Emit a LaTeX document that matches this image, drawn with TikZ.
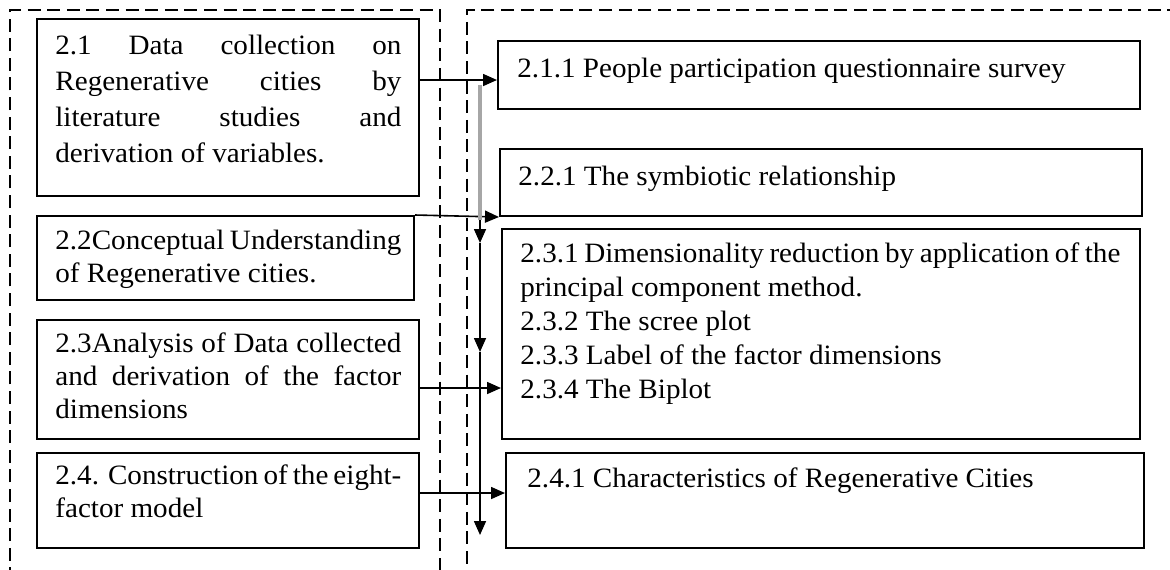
\documentclass[tikz,border=0pt]{standalone}
\usepackage{fontspec}
\setmainfont[FakeStretch=1.04]{Liberation Serif}
\usetikzlibrary{arrows.meta}

\tikzset{
  stage/.style={draw, line width=1pt, anchor=north west, inner sep=0pt},
  stagetext/.style={anchor=base west, inner sep=0pt, align=justify, font=\fontsize{14}{16.5}\selectfont},
  frame/.style={line width=0.7pt, dash pattern=on 6.5pt off 3.3pt},
  link/.style={line width=0.8pt, -{Triangle[length=7pt,width=6pt]}}
}

\begin{document}
\begin{tikzpicture}[x=0.5pt,y=-0.5pt]
\clip (0,0) rectangle (1170,569);

% dashed frames
\draw[frame] (10,600) -- (10,10) -- (440,10) -- (440,600);
\draw[frame] (1200,10) -- (467,10) -- (467,600);

% left column
\node[stage, minimum width=191pt, minimum height=88.5pt] (b21) at (36,18) {};
\node[stage, minimum width=188.5pt, minimum height=42pt] (b22) at (36,215) {};
\node[stage, minimum width=191pt, minimum height=59.5pt] (b23) at (36,319) {};
\node[stage, minimum width=191pt, minimum height=47.5pt] (b24) at (36,452) {};

\node[stagetext, text width=173pt, font=\fontsize{14}{18}\selectfont] (t21) at (55,54)
  {2.1 Data collection on\linebreak Regenerative cities by\linebreak literature studies and\linebreak derivation of variables.};
\node[stagetext, text width=173pt] (t22) at (55,249) {2.2Conceptual Understanding\\ of Regenerative cities.};
\node[stagetext, text width=173pt] (t23) at (55,352)
  {2.3Analysis of Data collected\linebreak and derivation of the factor\linebreak dimensions};
\node[stagetext, text width=173pt] (t24) at (55,484) {2.4. Construction of the eight-\linebreak factor model};

% right column
\node[stage, minimum width=321pt, minimum height=34pt] (b211) at (497,40) {};
\node[stage, minimum width=321pt, minimum height=33.5pt] (b221) at (499,148) {};
\node[stage, minimum width=319pt, minimum height=105pt] (b231) at (501,228) {};
\node[stage, minimum width=319pt, minimum height=47.5pt] (b241) at (505,452) {};

\node[stagetext, text width=300pt] (t211) at (517,77) {2.1.1 People participation questionnaire survey};
\node[stagetext, text width=300pt] (t221) at (518,185) {2.2.1 The symbiotic relationship};
\node[stagetext, text width=300pt, font=\fontsize{14}{17}\selectfont] (t231) at (520,262)
  {2.3.1 Dimensionality reduction by application of the\linebreak principal component method.\\
   2.3.2 The scree plot\\ 2.3.3 Label of the factor dimensions\\ 2.3.4 The Biplot};
\node[stagetext, text width=300pt] (t241) at (527,487) {2.4.1 Characteristics of Regenerative Cities};

% arrow levels and spine
\coordinate (lev1) at (0,80);
\coordinate (lev3) at (0,388);
\coordinate (lev4) at (0,493);
\coordinate (top) at (480,85);
\coordinate (gend) at (480,220);
\coordinate (m1) at (480,243);
\coordinate (m2) at (480,352);
\coordinate (bot) at (480,535);

\draw[link] (b21.east |- lev1) -- (b211.west |- lev1);
\draw[link] (b22.north east) -- (b221.south west);
\draw[link] (b23.east |- lev3) -- (b231.west |- lev3);
\draw[link] (b24.east |- lev4) -- (b241.west |- lev4);

\draw[link] (top) -- (m1);
\draw[link] (m1) -- (m2);
\draw[link] (m2) -- (bot);
\draw[line width=2.2pt, gray!70] (top) -- (gend);
\end{tikzpicture}
\end{document}
